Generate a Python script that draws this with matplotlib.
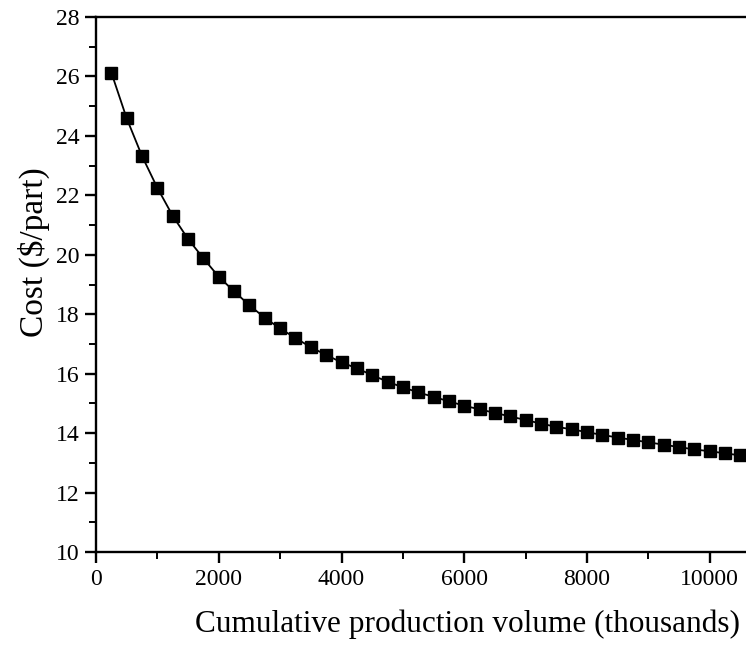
import matplotlib
matplotlib.use("Agg")
import matplotlib.pyplot as plt
from matplotlib.ticker import MultipleLocator

# Cumulative production volume (thousands of parts) and unit cost ($/part)
volume = [250, 500, 750, 1000, 1250, 1500, 1750, 2000, 2250, 2500,
          2750, 3000, 3250, 3500, 3750, 4000, 4250, 4500, 4750, 5000,
          5250, 5500, 5750, 6000, 6250, 6500, 6750, 7000, 7250, 7500,
          7750, 8000, 8250, 8500, 8750, 9000, 9250, 9500, 9750, 10000,
          10250, 10500]
cost = [26.13, 24.59, 23.32, 22.25, 21.31, 20.53, 19.88, 19.26, 18.77, 18.30,
        17.88, 17.52, 17.20, 16.89, 16.63, 16.38, 16.18, 15.95, 15.73, 15.54,
        15.37, 15.22, 15.07, 14.92, 14.80, 14.68, 14.56, 14.44, 14.32, 14.21,
        14.13, 14.03, 13.94, 13.85, 13.77, 13.69, 13.61, 13.53, 13.45, 13.39,
        13.32, 13.25]

xticks = [0, 2000, 4000, 6000, 8000, 10000]
yticks = [10, 12, 14, 16, 18, 20, 22, 24, 26, 28]

plt.rcParams['font.family'] = ['Liberation Serif', 'DejaVu Serif']

fig = plt.figure(figsize=(7.46, 6.46), dpi=100)
ax = fig.add_axes([96 / 746, 1 - 552 / 646, 1 - 96 / 746, (552 - 17) / 646])

ax.plot(volume, cost, color='black', linewidth=1.3, marker='s',
        markersize=8.5, markerfacecolor='black', markeredgecolor='black')

ax.set_xlim(0, 10590)
ax.set_ylim(10, 28)
ax.set_xticks(xticks)
ax.set_yticks(yticks)
ax.xaxis.set_minor_locator(MultipleLocator(1000))
ax.yaxis.set_minor_locator(MultipleLocator(1))

for side in ('left', 'bottom', 'top'):
    ax.spines[side].set_linewidth(1.7)
ax.spines['right'].set_visible(False)

ax.tick_params(which='major', direction='out', length=8, width=1.7,
               labelsize=17, top=False, right=False, pad=4)
ax.tick_params(which='minor', direction='out', length=5, width=1.4,
               top=False, right=False)

ax.set_xlabel('Cumulative production volume (thousands)', fontsize=22.5)
ax.xaxis.set_label_coords(0.571, -0.108)
ax.set_ylabel('Cost ($/part)', fontsize=24)
ax.yaxis.set_label_coords(-0.07, 0.56)

fig.savefig('out.png', dpi=100)
